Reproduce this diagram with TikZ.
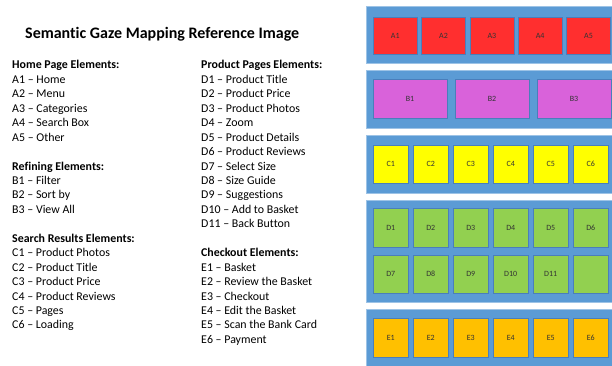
\documentclass[tikz,border=0pt]{standalone}
\usepackage{fontspec}
\setmainfont[Ligatures=NoCommon]{Carlito}
\definecolor{panelblue}{HTML}{5B9BD5}
\definecolor{panelline}{HTML}{9DC3E6}
\definecolor{boxline}{HTML}{4A7EBB}
\definecolor{cA}{HTML}{FF2F2F}
\definecolor{cB}{HTML}{D962DA}
\definecolor{cC}{HTML}{FFFF00}
\definecolor{cD}{HTML}{92D050}
\definecolor{cE}{HTML}{FFC000}
\tikzset{
  panel/.style={fill=panelblue,draw=panelline,line width=0.6pt},
  cell/.style={draw=boxline,line width=0.5pt,inner sep=0pt,anchor=north west,
    font=\fontsize{8}{9}\selectfont,text=black!80},
  txt/.style={anchor=base west,inner sep=0pt,font=\fontsize{11.9}{13}\selectfont},
  hdr/.style={txt,font=\fontsize{11.9}{13}\selectfont\bfseries},
}
\begin{document}
\begin{tikzpicture}[x=1pt,y=-1pt]
\useasboundingbox (0,0) rectangle (612,366);
\fill[white] (0,0) rectangle (612,366);
% title
\node[anchor=base west,inner sep=0pt,font=\fontsize{16}{19}\selectfont\bfseries] (title) at (25,39) {Semantic Gaze Mapping Reference Image};
% columns
\def\ls{14.44}
\def\bz{69}
\foreach \i/\t/\s in {0/Home Page Elements:/hdr,1/A1 – Home/txt,2/A2 – Menu/txt,3/A3 – Categories/txt,4/A4 – Search Box/txt,5/A5 – Other/txt,
  7/Refining Elements:/hdr,8/B1 – Filter/txt,9/B2 – Sort by/txt,10/B3 – View All/txt,
  12/Search Results Elements:/hdr,13/C1 – Product Photos/txt,14/C2 – Product Title/txt,15/C3 – Product Price/txt,16/C4 – Product Reviews/txt,17/C5 – Pages/txt,18/C6 – Loading/txt}
  {\node[\s] (L\i) at (12,\bz+\ls*\i) {\t};}
\foreach \i/\t/\s in {0/Product Pages Elements:/hdr,1/D1 – Product Title/txt,2/D2 – Product Price/txt,3/D3 – Product Photos/txt,4/D4 – Zoom/txt,5/D5 – Product Details/txt,6/D6 – Product Reviews/txt,7/D7 – Select Size/txt,8/D8 – Size Guide/txt,9/D9 – Suggestions/txt,10/D10 – Add to Basket/txt,11/D11 – Back Button/txt,
  13/Checkout Elements:/hdr,14/E1 – Basket/txt,15/E2 – Review the Basket/txt,16/E3 – Checkout/txt,17/E4 – Edit the Basket/txt,18/E5 – Scan the Bank Card/txt,19/E6 – Payment/txt}
  {\node[\s] (R\i) at (201,\bz+\ls*\i) {\t};}
% panels
\draw[panel] (366,6) rectangle (613,63);
\draw[panel] (366,70) rectangle (613,128);
\draw[panel] (366,135) rectangle (613,193);
\draw[panel] (366,200) rectangle (613,302);
\draw[panel] (366,309) rectangle (613,368);
% A row
\foreach \k in {1,...,5}
  \node[cell,fill=cA,minimum width=44pt,minimum height=37pt] (A\k) at ({373+48.3*(\k-1)},17) {A\k};
% B row
\foreach \k in {1,2,3}
  \node[cell,fill=cB,minimum width=73.5pt,minimum height=39pt] (B\k) at ({373+82*(\k-1)},79) {B\k};
% C row
\foreach \k in {1,...,6}
  \node[cell,fill=cC,minimum width=35pt,minimum height=38pt] (C\k) at ({373+40*(\k-1)},145) {C\k};
% D rows
\foreach \k in {1,...,6}
  \node[cell,fill=cD,minimum width=35pt,minimum height=39pt] (D\k) at ({373+40*(\k-1)},208) {D\k};
\foreach \k/\n in {1/7,2/8,3/9,4/10,5/11}
  \node[cell,fill=cD,minimum width=35pt,minimum height=38pt] (D\n) at ({373+40*(\k-1)},255) {D\n};
\node[cell,fill=cD,minimum width=35pt,minimum height=38pt] (D12) at (573,255) {};
% E row
\foreach \k in {1,...,6}
  \node[cell,fill=cE,minimum width=35pt,minimum height=39pt] (E\k) at ({373+40*(\k-1)},318) {E\k};
\end{tikzpicture}
\end{document}
